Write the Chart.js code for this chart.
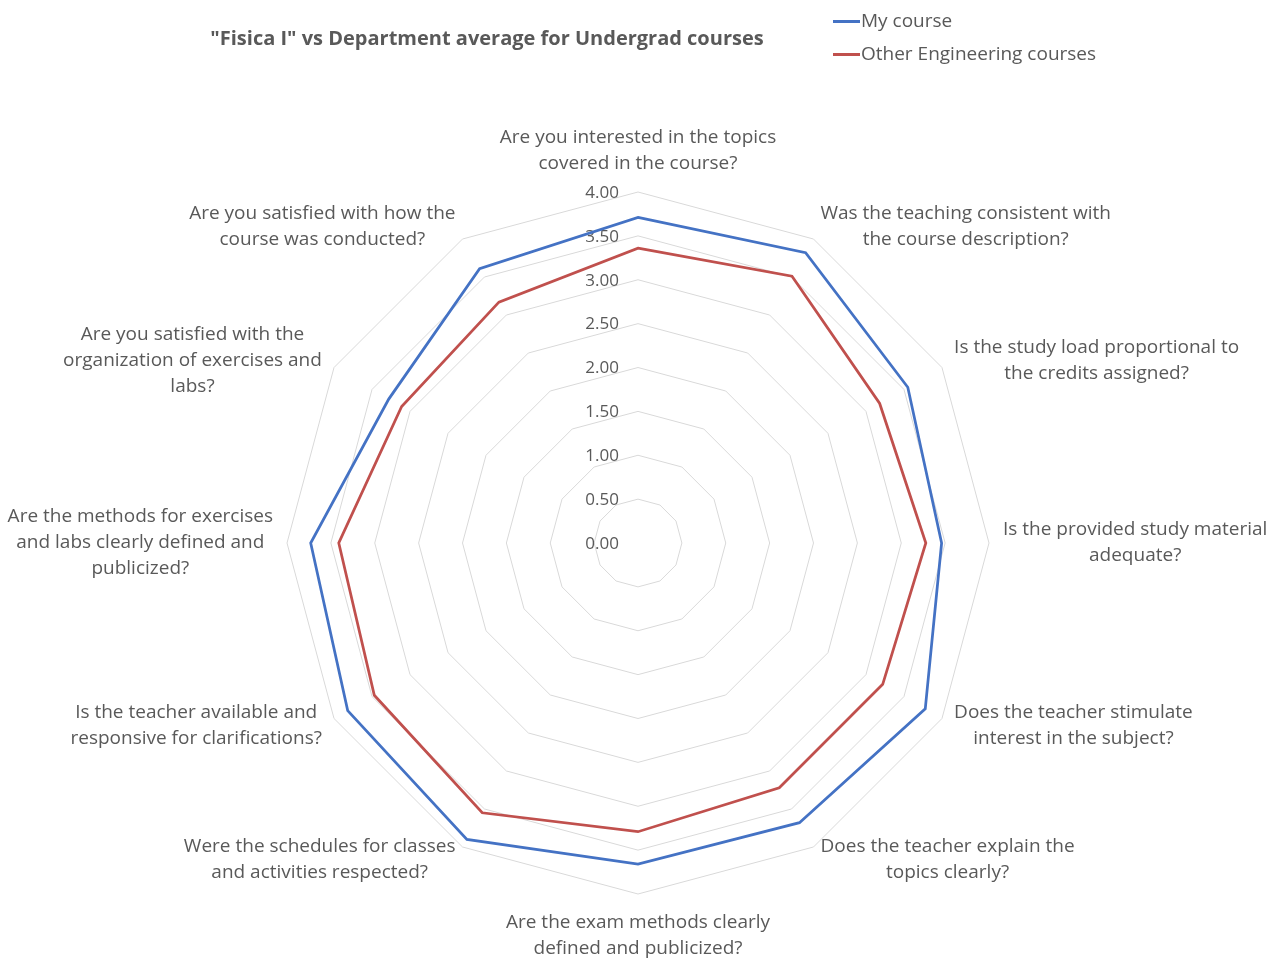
<!DOCTYPE html>
<html>
<head>
<meta charset="utf-8">
<script src="https://cdn.jsdelivr.net/npm/chart.js@4"></script>
<style>
  body { margin: 0; background: #fff; }
  #wrap { position: relative; width: 1276px; height: 958px; }
  #title {
    position: absolute; left: 137px; top: 24px; width: 700px; text-align: center;
    font: bold 20px "Open Sans", sans-serif; color: #595959; white-space: nowrap; line-height: 28px;
  }
  .leg { position: absolute; left: 833px; font: 19px "Open Sans", sans-serif; color: #595959; white-space: nowrap; line-height: 26px; }
  .leg span { display: inline-block; width: 27px; height: 3px; vertical-align: middle; margin-right: 1px; }
</style>
</head>
<body>
<div id="wrap">
  <canvas id="radarChart" width="1276" height="958"></canvas>
  <div id="title">"Fisica I" vs Department average for Undergrad courses</div>
  <div class="leg" style="top:7px"><span style="background:#4472C4"></span>My course</div>
  <div class="leg" style="top:40px"><span style="background:#C0504D"></span>Other Engineering courses</div>
</div>
<script>
const categories = [
    ['Are you interested in the topics', 'covered in the course?'],
    ['Was the teaching consistent with', 'the course description?'],
    ['Is the study load proportional to', 'the credits assigned?'],
    ['Is the provided study material', 'adequate?'],
    ['Does the teacher stimulate', 'interest in the subject?'],
    ['Does the teacher explain the', 'topics clearly?'],
    ['Are the exam methods clearly', 'defined and publicized?'],
    ['Were the schedules for classes', 'and activities respected?'],
    ['Is the teacher available and', 'responsive for clarifications?'],
    ['Are the methods for exercises', 'and labs clearly defined and', 'publicized?'],
    ['Are you satisfied with the', 'organization of exercises and', 'labs?'],
    ['Are you satisfied with how the', 'course was conducted?']
];
const myCourse = [3.71, 3.82, 3.55, 3.46, 3.78, 3.68, 3.66, 3.90, 3.82, 3.73, 3.28, 3.61];
const otherCourses = [3.36, 3.51, 3.18, 3.28, 3.22, 3.22, 3.29, 3.55, 3.47, 3.41, 3.11, 3.17];

const FONT = '"Open Sans", sans-serif';
const TEXT = '#595959';

// Tick labels drawn to the left of the vertical axis, like Excel
const tickLabelsLeft = {
    id: 'tickLabelsLeft',
    beforeDatasetsDraw(chart) {
        const scale = chart.scales.r;
        const ctx = chart.ctx;
        ctx.save();
        ctx.font = '17px ' + FONT;
        ctx.fillStyle = TEXT;
        ctx.textAlign = 'right';
        ctx.textBaseline = 'middle';
        scale.ticks.forEach(t => {
            const d = scale.getDistanceFromCenterForValue(t.value);
            ctx.fillText(t.value.toFixed(2), scale.xCenter - 19, scale.yCenter - d + 1);
        });
        ctx.restore();
    }
};

// Category labels, anchored the Excel way around the outer ring
const categoryLabels = {
    id: 'categoryLabels',
    afterDraw(chart) {
        const scale = chart.scales.r;
        const ctx = chart.ctx;
        const lh = 26;
        ctx.save();
        ctx.font = '19px ' + FONT;
        ctx.fillStyle = TEXT;
        ctx.textAlign = 'center';
        ctx.textBaseline = 'middle';
        categories.forEach((lines, i) => {
            const p = scale.getPointPosition(i, scale.drawingArea + 14);
            const deg = Math.round((scale.getIndexAngle(i) * 180 / Math.PI) % 360);
            const w = Math.max(...lines.map(l => ctx.measureText(l).width));
            const h = lines.length * lh;
            let cx, cy;
            if (deg === 0) { cx = p.x; cy = p.y - h / 2 - 1; }
            else if (deg === 180) { cx = p.x; cy = p.y + h / 2 + 2; }
            else if (deg < 180) { cx = p.x + w / 2; cy = p.y; }
            else { cx = p.x - w / 2; cy = p.y; }
            lines.forEach((ln, k) => {
                ctx.fillText(ln, cx, cy + (k - (lines.length - 1) / 2) * lh);
            });
        });
        ctx.restore();
    }
};

new Chart(document.getElementById('radarChart').getContext('2d'), {
    type: 'radar',
    data: {
        labels: categories,
        datasets: [
            { label: 'My course', data: myCourse, borderColor: '#4472C4', borderWidth: 2.75, fill: false, pointRadius: 0 },
            { label: 'Other Engineering courses', data: otherCourses, borderColor: '#C0504D', borderWidth: 2.75, fill: false, pointRadius: 0 }
        ]
    },
    options: {
        responsive: false,
        animation: false,
        layout: { padding: { top: 192, bottom: 64, left: 0, right: 0 } },
        plugins: {
            legend: { display: false },
            title: { display: false },
            tooltip: { enabled: false }
        },
        scales: {
            r: {
                min: 0,
                max: 4,
                ticks: { stepSize: 0.5, display: false },
                grid: { color: '#D9D9D9', lineWidth: 1 },
                angleLines: { display: false },
                pointLabels: { display: false }
            }
        }
    },
    plugins: [tickLabelsLeft, categoryLabels]
});
</script>
</body>
</html>
